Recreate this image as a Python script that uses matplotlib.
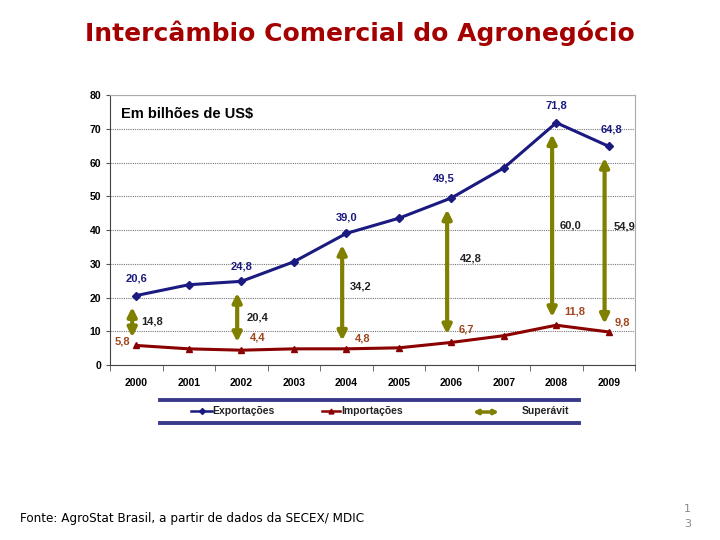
import numpy as np
import matplotlib.pyplot as plt
from matplotlib.lines import Line2D
from matplotlib.patches import FancyArrowPatch

# dados (bilhões de US$)
anos = ['2000', '2001', '2002', '2003', '2004', '2005', '2006', '2007', '2008', '2009']
exportacoes = [20.6, 23.8, 24.8, 30.6, 39.0, 43.5, 49.5, 58.4, 71.8, 64.8]
importacoes = [5.8, 4.8, 4.4, 4.8, 4.8, 5.1, 6.7, 8.7, 11.8, 9.8]
anos_superavit = [0, 2, 4, 6, 8, 9]
superavit = ['14,8', '20,4', '34,2', '42,8', '60,0', '54,9']
rot_exp = ['20,6', '24,8', '39,0', '49,5', '71,8', '64,8']
rot_imp = ['5,8', '4,4', '4,8', '6,7', '11,8', '9,8']

azul = '#1a1a80'
vermelho = '#8b0000'
oliva = '#808000'
laranja = '#a0461e'

fig = plt.figure(figsize=(7.2, 5.4), dpi=100)
fig.text(0.5, 0.938, 'Intercâmbio Comercial do Agronegócio', ha='center', va='center',
         fontsize=18, fontweight='bold', color='#a50000', family='DejaVu Sans')

ax = fig.add_axes([0.153, 0.324, 0.729, 0.5])
x = np.arange(len(anos))
ax.plot(x, exportacoes, color=azul, lw=2.2, marker='D', ms=4.5)
ax.plot(x, importacoes, color=vermelho, lw=2.2, marker='^', ms=5)

ax.set_xlim(-0.5, 9.5)
ax.set_ylim(0, 80)
ax.set_yticks(range(0, 81, 10))
ax.set_xticks(x)
ax.set_xticklabels(anos)
ax.set_xticks(np.arange(-0.5, 10, 1), minor=True)
ax.tick_params(axis='x', which='major', length=0, pad=9)
ax.tick_params(axis='x', which='minor', length=4, direction='out', color='#555555')
ax.tick_params(axis='y', length=3, color='#555555')
for lb in ax.get_xticklabels() + ax.get_yticklabels():
    lb.set_family('Liberation Sans')
    lb.set_fontsize(7.5)
    lb.set_fontweight('bold')
ax.grid(axis='y', ls=(0, (1, 1)), color='#777777', lw=0.8)
ax.set_axisbelow(True)
for s in ['top', 'right']:
    ax.spines[s].set_color('#aaaaaa')
ax.spines['left'].set_color('#444444')
ax.spines['bottom'].set_color('#444444')

ax.text(0.02, 0.93, 'Em bilhões de US$', transform=ax.transAxes, fontsize=10.5,
        fontweight='bold', family='Liberation Sans', va='center')

# setas de superávit
for i in anos_superavit:
    ax.annotate('', xy=(i - 0.08, exportacoes[i] - 3.4), xytext=(i - 0.08, importacoes[i] + 2.4),
                arrowprops=dict(arrowstyle='<|-|>', color=oliva, lw=3, mutation_scale=13,
                                shrinkA=0, shrinkB=0))

fonte = dict(family='Liberation Sans', fontsize=8, fontweight='bold')
desl_exp = [(0, 12.6), (0, 11), (0, 11.8), (-5.8, 13.7), (0, 12.7), (2, 11.8)]
for k, i in enumerate(anos_superavit):
    dx, dy = desl_exp[k]
    ax.annotate(rot_exp[k], (i, exportacoes[i]), xytext=(dx, dy), textcoords='offset points',
                ha='center', va='center', color=azul, **fonte)
desl_imp = [(-10, 3), (12, 8.8), (12, 7.8), (11, 9), (13, 10), (10, 6.5)]
for k, i in enumerate(anos_superavit):
    dx, dy = desl_imp[k]
    ax.annotate(rot_imp[k], (i, importacoes[i]), xytext=(dx, dy), textcoords='offset points',
                ha='center', va='center', color=laranja, **fonte)
desl_sup = [(11.5, -1), (12, -1.6), (10, 3.6), (13.7, 8.6), (10, -1.4), (11.5, 9.4)]
for k, i in enumerate(anos_superavit):
    dx, dy = desl_sup[k]
    meio = (exportacoes[i] + importacoes[i]) / 2
    ax.annotate(superavit[k], (i, meio), xytext=(dx, dy), textcoords='offset points',
                ha='center', va='center', color='#222222', **fonte)

# legenda
fig.add_artist(Line2D([0.222, 0.804], [0.259, 0.259], color='#3a3a8a', lw=2.8))
fig.add_artist(Line2D([0.222, 0.804], [0.217, 0.217], color='#3a3a8a', lw=2.8))
ly = 0.239
fonte_leg = dict(fontsize=7.5, fontweight='bold', family='Liberation Sans', va='center',
                 color='#222222')
fig.add_artist(Line2D([0.265, 0.280, 0.294], [ly, ly, ly], color=azul, lw=1.8,
                      marker='D', ms=3, markevery=[1]))
fig.text(0.295, ly, 'Exportações', **fonte_leg)
fig.add_artist(Line2D([0.447, 0.460, 0.472], [ly, ly, ly], color=vermelho, lw=1.8,
                      marker='^', ms=3.5, markevery=[1]))
fig.text(0.474, ly, 'Importações', **fonte_leg)
fig.add_artist(FancyArrowPatch((0.657, ly - 0.002), (0.693, ly - 0.002),
               transform=fig.transFigure, arrowstyle='<|-|>', color=oliva, lw=2.5,
               mutation_scale=6, shrinkA=0, shrinkB=0))
fig.text(0.725, ly, 'Superávit', **fonte_leg)

fig.text(0.028, 0.039, 'Fonte: AgroStat Brasil, a partir de dados da SECEX/ MDIC', fontsize=9.6,
         family='DejaVu Sans', stretch='condensed', va='center')
fig.text(0.955, 0.058, '1', fontsize=8, color='#888888', ha='center', va='center')
fig.text(0.955, 0.029, '3', fontsize=8, color='#888888', ha='center', va='center')

fig.savefig('out.png', dpi=100)
